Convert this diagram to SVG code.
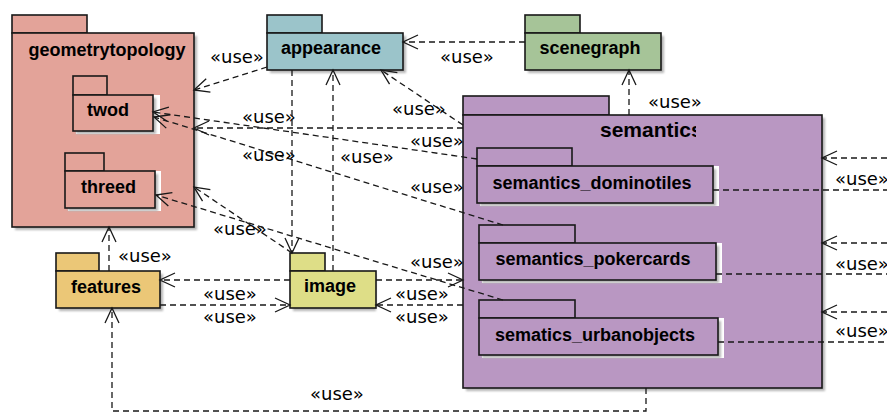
<svg xmlns="http://www.w3.org/2000/svg" width="887" height="413" viewBox="0 0 887 413">
<defs>
<style>
.pk{stroke:#181818;stroke-width:1.6}
.t{font-family:"Liberation Sans",Arial,sans-serif;font-weight:bold;font-size:18px;fill:#000}
.u{font-family:"DejaVu Sans",sans-serif;font-size:18px;fill:#000}
.c{fill:none;stroke:#181818;stroke-width:1.3;stroke-dasharray:6,4}
.sh{fill:#b5b5b5;filter:url(#blur)}
.wb{fill:#fff}
.gt{fill:#E3A399}.ap{fill:#9BC4CA}.sg{fill:#A6C498}.se{fill:#B997C2}.fe{fill:#EBC777}.im{fill:#DEDE87}
</style>
<filter id="blur" x="-10%" y="-10%" width="120%" height="120%"><feGaussianBlur stdDeviation="1"/></filter>
<marker id="a" markerUnits="userSpaceOnUse" markerWidth="20" markerHeight="20" viewBox="-18 -10 20 20" refX="0" refY="0" orient="auto">
<path d="M-15,-7 L0,0 L-15,7" fill="none" stroke="#181818" stroke-width="1.3"/>
</marker>
<clipPath id="semclip"><rect x="463" y="115" width="233" height="40"/></clipPath>
</defs>
<rect width="887" height="413" fill="#fff"/>

<g id="geometrytopology">
<rect class="sh" x="15" y="36" width="182" height="194"/>
<rect class="pk gt" x="12" y="15" width="75" height="18"/>
<rect class="pk gt" x="12" y="33" width="182" height="194"/>
<text class="t" x="107" y="56" text-anchor="middle">geometrytopology</text>
</g>
<g id="twod">
<rect class="wb" x="76" y="95" width="84" height="39"/>
<rect class="sh" x="76" y="98" width="80" height="36"/>
<rect class="pk gt" x="73" y="76" width="34" height="19"/>
<rect class="pk gt" x="73" y="95" width="80" height="36"/>
<text class="t" x="108" y="116" text-anchor="middle">twod</text>
</g>
<g id="threed">
<rect class="wb" x="68" y="171" width="93" height="40"/>
<rect class="sh" x="68" y="174" width="90" height="37"/>
<rect class="pk gt" x="65" y="153" width="39" height="18"/>
<rect class="pk gt" x="65" y="171" width="90" height="37"/>
<text class="t" x="108.5" y="193" text-anchor="middle">threed</text>
</g>

<g id="appearance">
<rect class="sh" x="270" y="36" width="136" height="37"/>
<rect class="pk ap" x="267" y="15" width="55" height="18"/>
<rect class="pk ap" x="267" y="33" width="136" height="37"/>
<text class="t" x="331" y="54" text-anchor="middle">appearance</text>
</g>

<g id="scenegraph">
<rect class="sh" x="528" y="36" width="136" height="37"/>
<rect class="pk sg" x="525" y="15" width="55" height="18"/>
<rect class="pk sg" x="525" y="33" width="136" height="37"/>
<text class="t" x="590" y="54" text-anchor="middle">scenegraph</text>
</g>

<g id="semantics">
<rect class="sh" x="466" y="118" width="359" height="273"/>
<rect class="pk se" x="463" y="96" width="146" height="19"/>
<rect class="pk se" x="463" y="115" width="359" height="273"/>
<text class="t" x="600" y="137" style="font-size:21px" clip-path="url(#semclip)">semantics</text>
</g>
<g id="semantics_dominotiles">
<rect class="wb" x="480" y="166" width="239" height="40"/>
<rect class="sh" x="480" y="169" width="236" height="37"/>
<rect class="pk se" x="477" y="148" width="95" height="18"/>
<rect class="pk se" x="477" y="166" width="236" height="37"/>
<text class="t" x="592" y="189" text-anchor="middle">semantics_dominotiles</text>
</g>
<g id="semantics_pokercards">
<rect class="wb" x="482" y="243" width="240" height="40"/>
<rect class="sh" x="482" y="246" width="237" height="37"/>
<rect class="pk se" x="479" y="225" width="96" height="18"/>
<rect class="pk se" x="479" y="243" width="237" height="37"/>
<text class="t" x="593" y="265" text-anchor="middle">semantics_pokercards</text>
</g>
<g id="sematics_urbanobjects">
<rect class="wb" x="482" y="318" width="242" height="40"/>
<rect class="sh" x="482" y="321" width="239" height="37"/>
<rect class="pk se" x="479" y="300" width="96" height="18"/>
<rect class="pk se" x="479" y="318" width="239" height="37"/>
<text class="t" x="595" y="341" text-anchor="middle">sematics_urbanobjects</text>
</g>

<g id="features">
<rect class="sh" x="59" y="274" width="104" height="37"/>
<rect class="pk fe" x="56" y="253" width="43" height="18"/>
<rect class="pk fe" x="56" y="271" width="104" height="37"/>
<text class="t" x="106" y="293" text-anchor="middle">features</text>
</g>

<g id="image">
<rect class="sh" x="293" y="274" width="83" height="37"/>
<rect class="pk im" x="290" y="253" width="35" height="18"/>
<rect class="pk im" x="290" y="271" width="86" height="37"/>
<text class="t" x="330" y="292" text-anchor="middle">image</text>
</g>

<g id="connectors">
<path class="c" d="M267,67 L194,90" marker-end="url(#a)"/>
<text class="u" x="210" y="63">«use»</text>
<path class="c" d="M525,42 L403,42" marker-end="url(#a)"/>
<text class="u" x="440" y="63">«use»</text>
<path class="c" d="M629,115 L629,70" marker-end="url(#a)"/>
<text class="u" x="648" y="108">«use»</text>
<path class="c" d="M463,125 L381,70" marker-end="url(#a)"/>
<text class="u" x="392" y="115">«use»</text>
<path class="c" d="M463,128 L194,128" marker-end="url(#a)"/>
<text class="u" x="242" y="123">«use»</text>
<path class="c" d="M477,159 L153,112" marker-end="url(#a)"/>
<text class="u" x="410" y="147">«use»</text>
<path class="c" d="M503,225 L154,117" marker-end="url(#a)"/>
<text class="u" x="242" y="161">«use»</text>
<path class="c" d="M292,70 L292,253" marker-end="url(#a)"/>
<text class="u" x="410" y="193">«use»</text>
<path class="c" d="M333,271 L333,70" marker-end="url(#a)"/>
<text class="u" x="340" y="163">«use»</text>
<path class="c" d="M292,253 L194,187" marker-end="url(#a)"/>
<text class="u" x="213" y="235">«use»</text>
<path class="c" d="M503,300 L156,195" marker-end="url(#a)"/>
<text class="u" x="410" y="268">«use»</text>
<path class="c" d="M109,271 L109,227" marker-end="url(#a)"/>
<text class="u" x="118" y="262">«use»</text>
<path class="c" d="M290,280 L160,280" marker-end="url(#a)"/>
<text class="u" x="203" y="300">«use»</text>
<path class="c" d="M160,305 L290,305" marker-end="url(#a)"/>
<text class="u" x="203" y="323">«use»</text>
<path class="c" d="M376,280 L463,280" marker-end="url(#a)"/>
<text class="u" x="395" y="300">«use»</text>
<path class="c" d="M463,305 L376,305" marker-end="url(#a)"/>
<text class="u" x="395" y="323">«use»</text>
<path class="c" d="M646,388 L646,411 L112,411 L112,308" marker-end="url(#a)"/>
<text class="u" x="310" y="400">«use»</text>
<path class="c" d="M887,158 L822,158" marker-end="url(#a)"/>
<path class="c" d="M887,243 L822,243" marker-end="url(#a)"/>
<path class="c" d="M887,312 L822,312" marker-end="url(#a)"/>
<path class="c" d="M713,190 L887,190"/>
<text class="u" x="835" y="185">«use»</text>
<path class="c" d="M716,274 L887,274"/>
<text class="u" x="835" y="270">«use»</text>
<path class="c" d="M718,342 L887,342"/>
<text class="u" x="835" y="337">«use»</text>
</g>
</svg>
